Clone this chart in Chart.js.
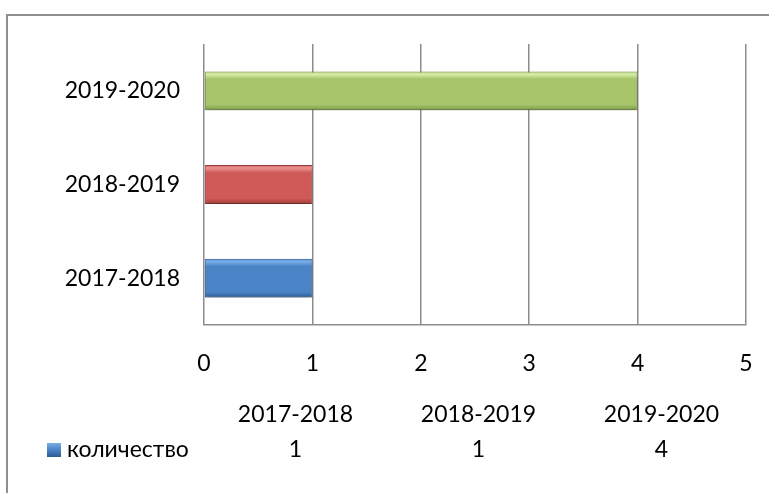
<!DOCTYPE html>
<html lang="ru">
<head>
  <meta charset="UTF-8">
  <title>количество</title>
  <style>
    html, body { margin: 0; padding: 0; background: #fff; }
    #wrap { width: 769px; height: 493px; }
  </style>
</head>
<body>
  <div id="wrap">
    <canvas id="canvas" width="769" height="493"></canvas>
  </div>
  <script src="https://cdn.jsdelivr.net/npm/chart.js"></script>
  <script>
    // data
    const categories = ['2017-2018', '2018-2019', '2019-2020'];
    const values = [1, 1, 4];
    const seriesName = 'количество';
    const xTicks = [0, 1, 2, 3, 4, 5];

    // top / middle / bottom shades for each bar
    const barShades = [
      ['#79aee8', '#4a83c6', '#2d5a92'],
      ['#ec9593', '#d05a57', '#9c3e3c'],
      ['#d8efa6', '#a6c46a', '#7a9646']
    ];

    const FONT = 'Lato, "Open Sans", sans-serif';
    const FONT_SIZE = 23;

    const barFill = (ctx) => {
      const chart = ctx.chart;
      const y = chart.scales.y;
      const s = barShades[ctx.dataIndex] || barShades[0];
      if (!y || ctx.dataIndex === undefined) return s[1];
      const c = y.getPixelForValue(ctx.dataIndex);
      const half = y.height / categories.length * 0.42 / 2;
      if (!Number.isFinite(c) || !Number.isFinite(half) || half <= 0) return s[1];
      const g = chart.ctx.createLinearGradient(0, c - half, 0, c + half);
      g.addColorStop(0, s[1]);
      g.addColorStop(0.08, s[0]);
      g.addColorStop(0.2, s[1]);
      g.addColorStop(0.85, s[1]);
      g.addColorStop(1, s[2]);
      return g;
    };

    // outer frame + data table under the axis
    const frameAndTable = {
      id: 'frameAndTable',
      beforeDraw(chart) {
        const c = chart.ctx;
        c.save();
        c.strokeStyle = '#8f8f8f';
        c.lineWidth = 2;
        c.strokeRect(7, 15, 900, 700);
        c.restore();
      },
      beforeDatasetsDraw(chart) {
        const c = chart.ctx;
        c.save();
        c.shadowColor = 'rgba(0,0,0,0.35)';
        c.shadowBlur = 6;
        c.shadowOffsetY = 4;
      },
      afterDatasetsDraw(chart) {
        chart.ctx.restore();
      },
      afterDraw(chart) {
        const c = chart.ctx;
        const area = chart.chartArea;
        const colW = (area.right + 7 - area.left) / categories.length;
        const headY = area.bottom + 90;
        const valY = area.bottom + 125;
        c.save();
        c.fillStyle = '#000';
        c.font = FONT_SIZE + 'px ' + FONT;
        c.textAlign = 'center';
        c.textBaseline = 'middle';
        categories.forEach((cat, i) => {
          const cx = area.left + colW * (i + 0.5);
          c.fillText(cat, cx, headY);
          c.fillText(String(values[i]), cx, valY);
        });
        // legend key
        const kg = c.createLinearGradient(0, valY - 7, 0, valY + 7);
        kg.addColorStop(0, barShades[0][0]);
        kg.addColorStop(0.5, barShades[0][1]);
        kg.addColorStop(1, barShades[0][2]);
        c.fillStyle = kg;
        c.fillRect(47, valY - 7, 14, 14);
        c.fillStyle = '#000';
        c.textAlign = 'left';
        c.fillText(seriesName, 67, valY);
        c.restore();
      }
    };

    const canvas = document.getElementById('canvas');
    const chart = new Chart(canvas, {
      type: 'bar',
      data: {
        labels: categories,
        datasets: [{
          label: seriesName,
          data: values,
          backgroundColor: barFill,
          borderColor: (ctx) => barShades[ctx.dataIndex] ? barShades[ctx.dataIndex][2] : '#333',
          borderWidth: 1,
          borderSkipped: false,
          categoryPercentage: 0.46,
          barPercentage: 0.9
        }]
      },
      options: {
        indexAxis: 'y',
        responsive: false,
        animation: false,
        devicePixelRatio: 1,
        layout: { padding: { top: 44, right: 23, left: 0, bottom: 0 } },
        plugins: {
          legend: { display: false },
          tooltip: { enabled: false }
        },
        scales: {
          x: {
            min: xTicks[0],
            max: xTicks[xTicks.length - 1],
            afterBuildTicks: (s) => { s.ticks = xTicks.map(v => ({ value: v })); },
            afterFit: (s) => { s.height = 168; s.paddingLeft = 0; s.paddingRight = 0; },
            grid: { color: '#8c8c8c', lineWidth: 1.5, drawTicks: false },
            border: { color: '#8c8c8c', width: 1.5 },
            ticks: { color: '#000', font: { family: FONT, size: FONT_SIZE }, padding: 25 }
          },
          y: {
            reverse: true,
            afterFit: (s) => { s.width = 204; },
            grid: { display: false },
            border: { display: false },
            ticks: { color: '#000', font: { family: FONT, size: FONT_SIZE }, padding: 16 }
          }
        }
      },
      plugins: [frameAndTable]
    });
  </script>
</body>
</html>
